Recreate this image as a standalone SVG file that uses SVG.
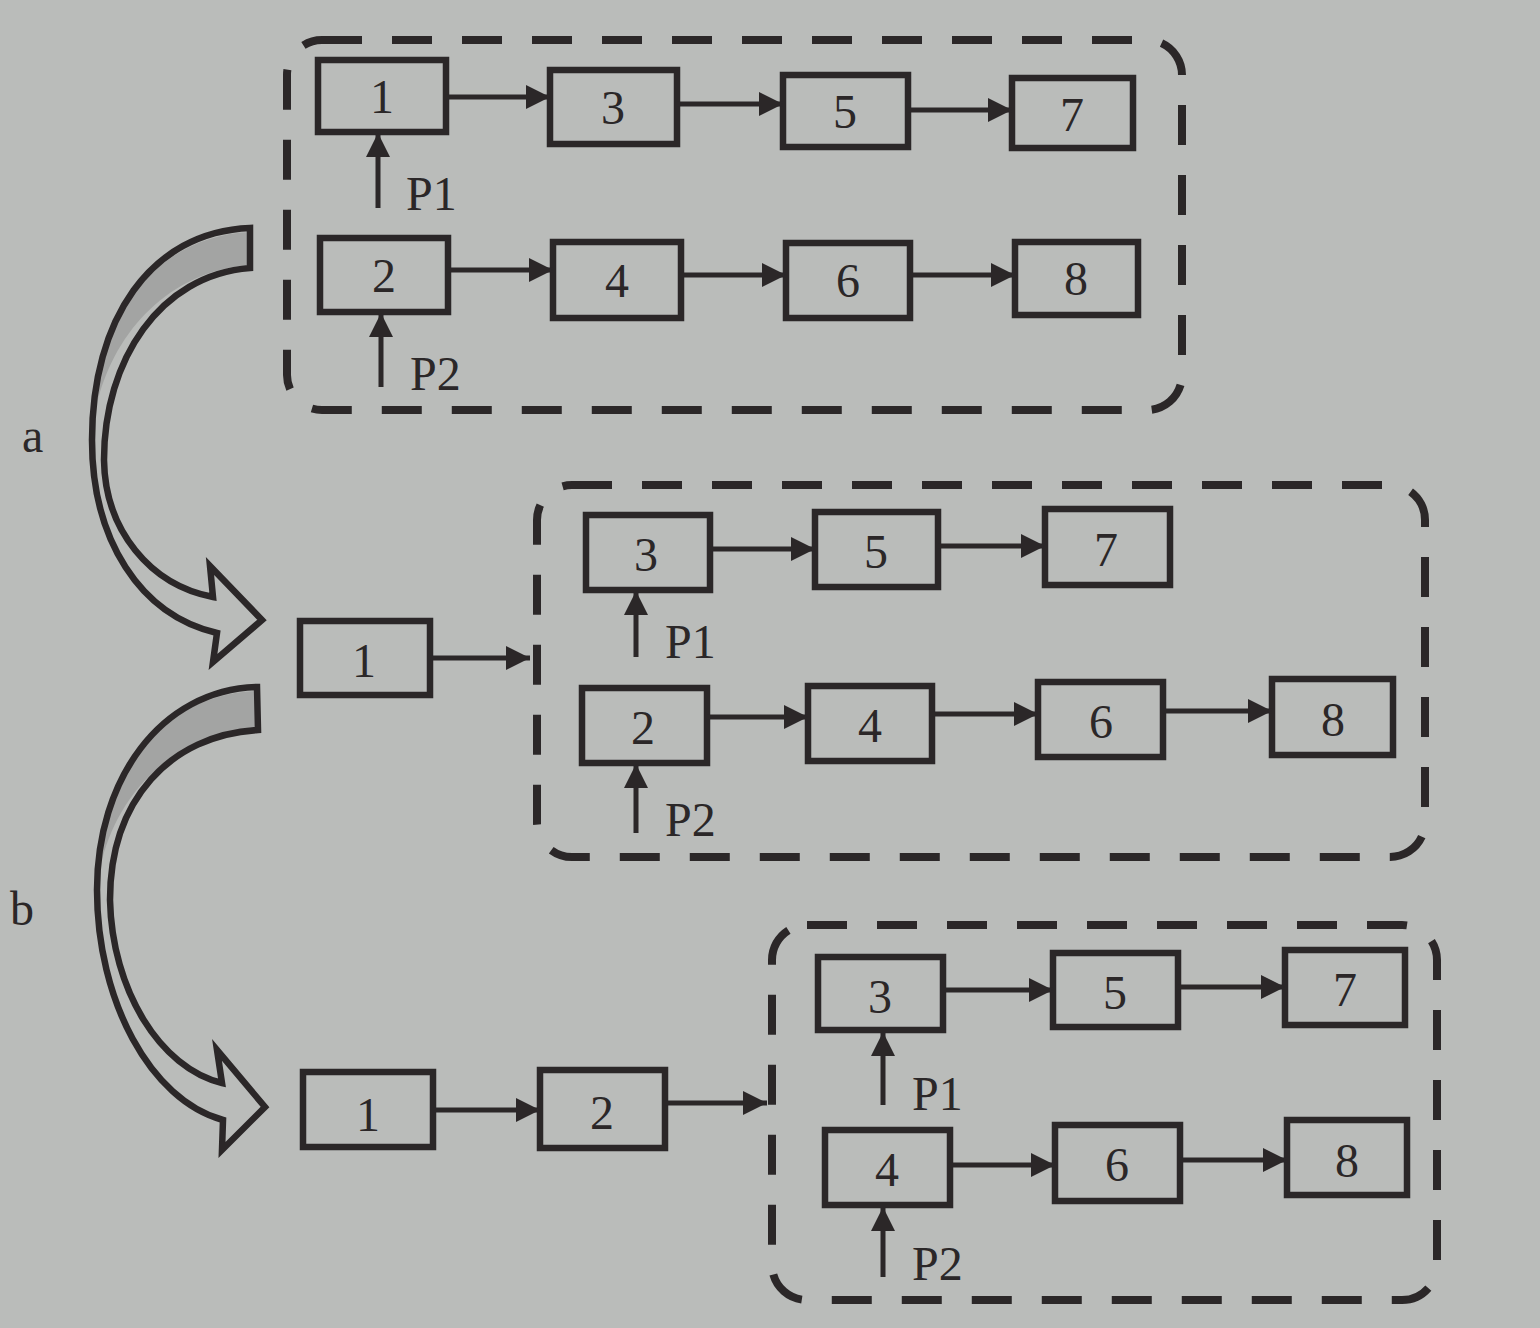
<svg xmlns="http://www.w3.org/2000/svg" width="1540" height="1328" viewBox="0 0 1540 1328">
<defs>
<style>
.bg{fill:#babcba}
.box{fill:none;stroke:#2b2728;stroke-width:6.5}
.grp{fill:none;stroke:#2b2728;stroke-width:8;stroke-dasharray:40 30}
.ln{fill:none;stroke:#2b2728;stroke-width:5}
.t{font-family:"Liberation Serif","Times New Roman",serif;font-size:48px;fill:#2b2728;text-anchor:middle}
.lbl{font-family:"Liberation Serif","Times New Roman",serif;font-size:48px;fill:#2b2728}
.big{fill:none;stroke:#2b2728;stroke-width:6.5;stroke-linejoin:miter}
.shade{fill:#a3a4a3}
</style>
<marker id="ah" viewBox="0 0 10 10" refX="10" refY="5" markerWidth="30" markerHeight="24" markerUnits="userSpaceOnUse" orient="auto">
<path d="M0,0 L10,5 L0,10 Z" fill="#2b2728"/>
</marker>
</defs>
<rect class="bg" x="0" y="0" width="1540" height="1328"/>

<g id="label-a"><text class="lbl" x="22" y="452">a</text></g>
<g id="label-b"><text class="lbl" x="10" y="925">b</text></g>

<g id="curved-arrow-a">
<path class="shade" d="M250,232 C160,236 102,310 98,400 C116,330 170,272 248,265 Z"/>
<path class="big" d="M250,228 C150,232 92,320 92,440 C92,540 140,615 217,633 L213,662 L262,620 L210,566 L213,597 C150,585 105,530 104,460 C104,360 160,275 250,268 Z"/>
</g>
<g id="curved-arrow-b">
<path class="shade" d="M255,691 C165,695 106,770 102,860 C120,790 175,735 256,727 Z"/>
<path class="big" d="M257,687 C160,690 97,780 97,890 C97,1000 150,1100 223,1120 L222,1150 L265,1107 L217,1050 L222,1083 C160,1068 112,990 110,900 C110,800 170,735 258,730 Z"/>
</g>

<g id="group-1"><rect class="grp" x="287" y="40" width="895" height="370" rx="35"/></g>
<g id="group-2"><rect class="grp" x="537" y="485" width="888" height="372" rx="35"/></g>
<g id="group-3"><rect class="grp" x="772" y="925" width="665" height="375" rx="35"/></g>

<g id="s1-n1"><rect class="box" x="318" y="60" width="128" height="72"/><text class="t" x="382" y="113">1</text></g>
<g id="s1-n3"><rect class="box" x="550" y="70" width="127" height="74"/><text class="t" x="613" y="124">3</text></g>
<g id="s1-n5"><rect class="box" x="783" y="75" width="125" height="72"/><text class="t" x="845" y="128">5</text></g>
<g id="s1-n7"><rect class="box" x="1012" y="78" width="121" height="70"/><text class="t" x="1072" y="131">7</text></g>
<g id="s1-n2"><rect class="box" x="320" y="238" width="128" height="74"/><text class="t" x="384" y="292">2</text></g>
<g id="s1-n4"><rect class="box" x="553" y="242" width="128" height="76"/><text class="t" x="617" y="297">4</text></g>
<g id="s1-n6"><rect class="box" x="786" y="243" width="124" height="75"/><text class="t" x="848" y="297">6</text></g>
<g id="s1-n8"><rect class="box" x="1015" y="242" width="123" height="73"/><text class="t" x="1076" y="295">8</text></g>
<g id="s1-p1"><text class="lbl" x="406" y="210">P1</text></g>
<g id="s1-p2"><text class="lbl" x="410" y="390">P2</text></g>

<g id="s2-n1"><rect class="box" x="300" y="621" width="130" height="74"/><text class="t" x="364" y="677">1</text></g>
<g id="s2-n3"><rect class="box" x="586" y="515" width="124" height="75"/><text class="t" x="646" y="571">3</text></g>
<g id="s2-n5"><rect class="box" x="815" y="512" width="123" height="75"/><text class="t" x="876" y="568">5</text></g>
<g id="s2-n7"><rect class="box" x="1045" y="509" width="125" height="76"/><text class="t" x="1106" y="566">7</text></g>
<g id="s2-n2"><rect class="box" x="582" y="688" width="125" height="75"/><text class="t" x="643" y="744">2</text></g>
<g id="s2-n4"><rect class="box" x="808" y="686" width="124" height="75"/><text class="t" x="870" y="742">4</text></g>
<g id="s2-n6"><rect class="box" x="1038" y="682" width="125" height="75"/><text class="t" x="1101" y="738">6</text></g>
<g id="s2-n8"><rect class="box" x="1272" y="679" width="121" height="76"/><text class="t" x="1333" y="736">8</text></g>
<g id="s2-p1"><text class="lbl" x="665" y="658">P1</text></g>
<g id="s2-p2"><text class="lbl" x="665" y="836">P2</text></g>

<g id="s3-n1"><rect class="box" x="303" y="1072" width="130" height="75"/><text class="t" x="368" y="1131">1</text></g>
<g id="s3-n2"><rect class="box" x="540" y="1070" width="125" height="78"/><text class="t" x="602" y="1129">2</text></g>
<g id="s3-n3"><rect class="box" x="818" y="957" width="125" height="73"/><text class="t" x="880" y="1013">3</text></g>
<g id="s3-n5"><rect class="box" x="1053" y="953" width="125" height="74"/><text class="t" x="1115" y="1009">5</text></g>
<g id="s3-n7"><rect class="box" x="1285" y="950" width="120" height="75"/><text class="t" x="1345" y="1006">7</text></g>
<g id="s3-n4"><rect class="box" x="825" y="1130" width="125" height="75"/><text class="t" x="887" y="1186">4</text></g>
<g id="s3-n6"><rect class="box" x="1055" y="1125" width="125" height="76"/><text class="t" x="1117" y="1181">6</text></g>
<g id="s3-n8"><rect class="box" x="1287" y="1120" width="120" height="75"/><text class="t" x="1347" y="1177">8</text></g>
<g id="s3-p1"><text class="lbl" x="912" y="1110">P1</text></g>
<g id="s3-p2"><text class="lbl" x="912" y="1280">P2</text></g>

<g id="connectors">
<line class="ln" x1="446" y1="97" x2="550" y2="97" marker-end="url(#ah)"/>
<line class="ln" x1="677" y1="104" x2="783" y2="104" marker-end="url(#ah)"/>
<line class="ln" x1="908" y1="110" x2="1012" y2="110" marker-end="url(#ah)"/>
<line class="ln" x1="448" y1="270" x2="553" y2="270" marker-end="url(#ah)"/>
<line class="ln" x1="681" y1="275" x2="786" y2="275" marker-end="url(#ah)"/>
<line class="ln" x1="910" y1="275" x2="1015" y2="275" marker-end="url(#ah)"/>
<line class="ln" x1="378" y1="208" x2="378" y2="133" marker-end="url(#ah)"/>
<line class="ln" x1="381" y1="387" x2="381" y2="313" marker-end="url(#ah)"/>

<line class="ln" x1="430" y1="658" x2="530" y2="658" marker-end="url(#ah)"/>
<line class="ln" x1="710" y1="549" x2="815" y2="549" marker-end="url(#ah)"/>
<line class="ln" x1="938" y1="546" x2="1045" y2="546" marker-end="url(#ah)"/>
<line class="ln" x1="707" y1="717" x2="808" y2="717" marker-end="url(#ah)"/>
<line class="ln" x1="932" y1="714" x2="1038" y2="714" marker-end="url(#ah)"/>
<line class="ln" x1="1163" y1="711" x2="1272" y2="711" marker-end="url(#ah)"/>
<line class="ln" x1="636" y1="657" x2="636" y2="591" marker-end="url(#ah)"/>
<line class="ln" x1="636" y1="833" x2="636" y2="764" marker-end="url(#ah)"/>

<line class="ln" x1="433" y1="1110" x2="540" y2="1110" marker-end="url(#ah)"/>
<line class="ln" x1="665" y1="1103" x2="767" y2="1103" marker-end="url(#ah)"/>
<line class="ln" x1="943" y1="990" x2="1053" y2="990" marker-end="url(#ah)"/>
<line class="ln" x1="1178" y1="987" x2="1285" y2="987" marker-end="url(#ah)"/>
<line class="ln" x1="950" y1="1165" x2="1055" y2="1165" marker-end="url(#ah)"/>
<line class="ln" x1="1180" y1="1160" x2="1287" y2="1160" marker-end="url(#ah)"/>
<line class="ln" x1="883" y1="1105" x2="883" y2="1032" marker-end="url(#ah)"/>
<line class="ln" x1="883" y1="1277" x2="883" y2="1207" marker-end="url(#ah)"/>
</g>
</svg>
